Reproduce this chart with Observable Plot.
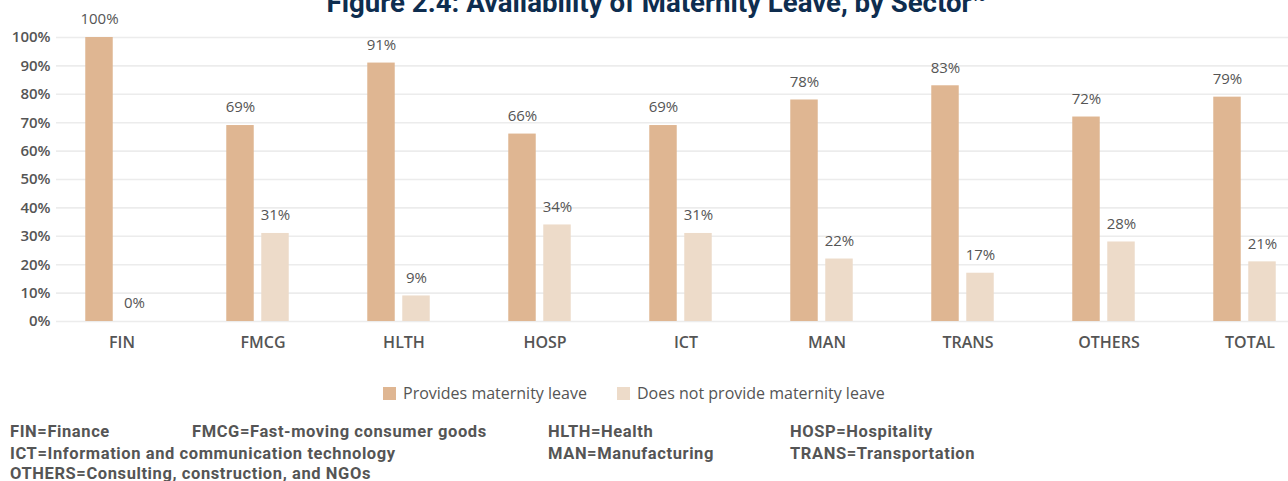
<!DOCTYPE html>
<html>
<head>
<meta charset="utf-8">
<script src="https://cdn.jsdelivr.net/npm/d3@7"></script>
<script src="https://cdn.jsdelivr.net/npm/@observablehq/plot@0.6"></script>
<style>
  html, body { margin: 0; padding: 0; background: #fff; width: 1288px; height: 481px; overflow: hidden; }
  #wrap { position: relative; width: 1288px; height: 481px; }
  #title { position: absolute; top: -10.7px; left: 12px; width: 1288px; text-align: center; font-family: Roboto, sans-serif; font-weight: 700; font-size: 27.6px; line-height: 27.6px; color: #0e2d4f; white-space: nowrap; }
  #title sup { font-size: 12px; vertical-align: 11px; line-height: 0; }
  #chart { position: absolute; top: 0; left: 0; }
  .legend { position: absolute; top: 382px; font-family: "Open Sans", sans-serif; font-size: 16px; color: #555; white-space: nowrap; }
  .legend span.sw { display: inline-block; width: 13px; height: 13px; margin-right: 7px; vertical-align: -1px; }
  .note { position: absolute; font-family: Roboto, sans-serif; font-weight: 700; font-size: 16.5px; letter-spacing: 0.6px; color: #555; white-space: nowrap; }
</style>
</head>
<body>
<div id="wrap">
  <div id="title">Figure 2.4: Availability of Maternity Leave, by Sector<sup>16</sup></div>
  <div id="chart"></div>
</div>
<script>
const sectors = ["FIN", "FMCG", "HLTH", "HOSP", "ICT", "MAN", "TRANS", "OTHERS", "TOTAL"];
const provides = [1.00, 0.69, 0.91, 0.66, 0.69, 0.78, 0.83, 0.72, 0.79];
const notProvides = [0.00, 0.31, 0.09, 0.34, 0.31, 0.22, 0.17, 0.28, 0.21];
const seriesNames = ["Provides maternity leave", "Does not provide maternity leave"];
const seriesColors = ["#dfb692", "#eddbc9"];
const yTicks = [0, 0.1, 0.2, 0.3, 0.4, 0.5, 0.6, 0.7, 0.8, 0.9, 1.0];
const legendNotes = [
  ["FIN=Finance", 10, 422], ["FMCG=Fast-moving consumer goods", 192, 422], ["HLTH=Health", 548, 422], ["HOSP=Hospitality", 790, 422],
  ["ICT=Information and communication technology", 10, 444], ["MAN=Manufacturing", 548, 444], ["TRANS=Transportation", 790, 444],
  ["OTHERS=Consulting, construction, and NGOs", 10, 464]
];

const rowsA = sectors.map((s, i) => ({sector: s, value: provides[i]}));
const rowsB = sectors.map((s, i) => ({sector: s, value: notProvides[i]}));
const pct = d3.format(".0%");

const step = 141.53;
const half = step / 2;
const plot = Plot.plot({
  width: 1288,
  height: 360,
  marginLeft: 56,
  marginRight: 0,
  marginTop: 37,
  marginBottom: 39,
  x: {domain: sectors, range: [43.3, 43.3 + 9 * step], padding: 0, label: null},
  y: {domain: [0, 1], label: null},
  style: {background: "transparent"},
  marks: [
    Plot.ruleY(yTicks, {stroke: "#ececec", strokeWidth: 1.6}),
    Plot.axisY(yTicks, {tickFormat: pct, tickSize: 0, tickPadding: 6, fontSize: 15, fontWeight: 600, fontFamily: "Open Sans", fill: "#555", label: null}),
    Plot.axisX({tickSize: 0, tickPadding: 15, dx: 5, fontSize: 16, fontWeight: 600, fontFamily: "Open Sans", fill: "#555", label: null, style: "letter-spacing:0.5px"}),
    Plot.barY(rowsA, {x: "sector", y: "value", fill: seriesColors[0], insetLeft: half - 31.5, insetRight: half + 3.5}),
    Plot.barY(rowsB, {x: "sector", y: "value", fill: seriesColors[1], insetLeft: half + 3.5, insetRight: half - 31.5}),
    Plot.text(rowsA, {x: "sector", y: "value", text: d => pct(d.value), dx: -17.5, dy: -18, fontSize: 15, fontFamily: "Open Sans", fill: "#555", lineAnchor: "middle"}),
    Plot.text(rowsB, {x: "sector", y: "value", text: d => pct(d.value), dx: 17.5, dy: -18, fontSize: 15, fontFamily: "Open Sans", fill: "#555", lineAnchor: "middle"})
  ]
});
plot.style.overflow = "visible";
document.getElementById("chart").appendChild(plot);

const wrap = document.getElementById("wrap");
const legendX = [383, 617];
seriesNames.forEach((name, i) => {
  const d = document.createElement("div");
  d.className = "legend";
  d.style.left = legendX[i] + "px";
  d.innerHTML = `<span class="sw" style="background:${seriesColors[i]}"></span>${name}`;
  wrap.appendChild(d);
});
legendNotes.forEach(([t, x, y]) => {
  const d = document.createElement("div");
  d.className = "note";
  d.style.left = x + "px";
  d.style.top = y + "px";
  d.textContent = t;
  wrap.appendChild(d);
});
</script>
</body>
</html>
